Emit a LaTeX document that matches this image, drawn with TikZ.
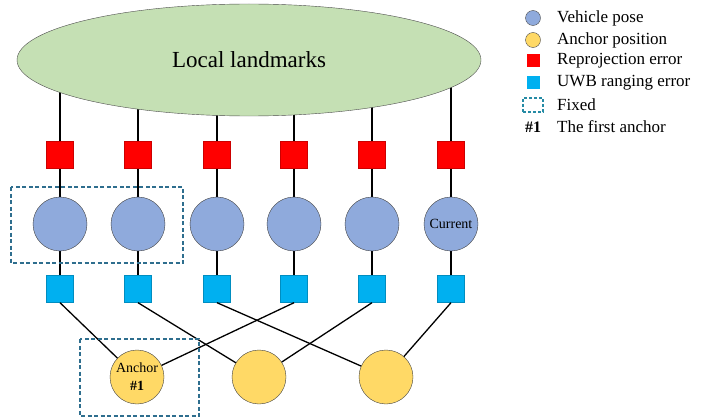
\documentclass[tikz,border=0pt]{standalone}
\usepackage{fontspec}
\setmainfont{Liberation Serif}
\usetikzlibrary{shapes.geometric,backgrounds}

\definecolor{poseblue}{HTML}{8FAADC}
\definecolor{anchoryellow}{HTML}{FFD966}
\definecolor{uwbblue}{HTML}{00B0F0}
\definecolor{landgreen}{HTML}{C5E0B4}
\definecolor{fixedblue}{HTML}{2E6E8E}

\tikzset{
	pose/.style={circle, draw=black!75, fill=poseblue, minimum size=54pt, inner sep=0pt, font=\fontsize{14}{16}\selectfont},
	anchorpt/.style={circle, draw=black!75, fill=anchoryellow, minimum size=54pt, inner sep=0pt, align=center, font=\fontsize{14}{18}\selectfont},
	reproj/.style={rectangle, fill=red, draw=red!80!black, minimum size=27pt, inner sep=0pt},
	ranging/.style={rectangle, fill=uwbblue, draw=uwbblue!80!black, minimum size=27pt, inner sep=0pt},
	fixedbox/.style={draw=fixedblue, line width=1.3pt, dash pattern=on 4pt off 2.5pt},
	link/.style={line width=1.3pt},
	legtext/.style={anchor=west, inner sep=0pt, font=\fontsize{17}{18}\selectfont}
}

\begin{document}
\begin{tikzpicture}[x=1pt, y=-1pt]
		\useasboundingbox (0,0) rectangle (702,420);
		% landmarks
		\node[ellipse, draw=black!70, fill=landgreen, minimum width=464pt, minimum height=112pt,
			font=\fontsize{23}{24}\selectfont] (L) at (249,60) {Local landmarks};
		% factors and poses
		\foreach \i/\x in {1/60, 2/138, 3/217, 4/294, 5/372, 6/451} {
			\node[reproj] (r\i) at (\x,155) {};
			\node[ranging] (u\i) at (\x,289) {};
		}
		\node[pose] (v1) at (60,224) {};
		\node[pose] (v2) at (138,224) {};
		\node[pose] (v3) at (217,224) {};
		\node[pose] (v4) at (294,224) {};
		\node[pose] (v5) at (372,224) {};
		\node[pose] (v6) at (451,224) {Current};
		% anchors
		\node[anchorpt] (a1) at (137,377) {Anchor\\\textbf{\#1}};
		\node[anchorpt] (a2) at (259,377) {};
		\node[anchorpt] (a3) at (386,377) {};
		\begin{scope}[on background layer]
			\foreach \i in {1,...,6} {
				\draw[link] (r\i.north) -- (r\i |- L.center);
				\draw[link] (r\i) -- (v\i);
				\draw[link] (v\i) -- (u\i);
			}
		\end{scope}
		\draw[link] (u1.south) -- (a1);
		\draw[link] (u2.south) -- (a2);
		\draw[link] (u3.south) -- (a3);
		\draw[link] (u4.south) -- (a1);
		\draw[link] (u5.south) -- (a2);
		\draw[link] (u6.south) -- (a3);
		% fixed
		\draw[fixedbox] (11,187) rectangle (183,263);
		\draw[fixedbox] (80,339) rectangle (199,416);
		% legend
		\node[circle, draw=black!70, fill=poseblue, minimum size=15pt, inner sep=0pt] (k1) at (533,18) {};
		\node[circle, draw=black!70, fill=anchoryellow, minimum size=15pt, inner sep=0pt] (k2) at (533,40) {};
		\node[rectangle, fill=red, minimum size=13pt, inner sep=0pt] (k3) at (533,61) {};
		\node[rectangle, fill=uwbblue, minimum size=13pt, inner sep=0pt] (k4) at (533,83) {};
		\node[rectangle, draw=fixedblue!80!cyan, line width=1.2pt, dash pattern=on 3pt off 2pt, minimum width=20pt, minimum height=14pt, inner sep=0pt] (k5) at (533,105) {};
		\node[inner sep=0pt, font=\fontsize{16}{17}\selectfont\bfseries] (k6) at (533,127) {\#1};
		\node[legtext] (t1) at (557,18) {Vehicle pose};
		\node[legtext] (t2) at (557,40) {Anchor position};
		\node[legtext] (t3) at (557,61) {Reprojection error};
		\node[legtext] (t4) at (557,83) {UWB ranging error};
		\node[legtext] (t5) at (557,105) {Fixed};
		\node[legtext] (t6) at (557,127) {The first anchor};
\end{tikzpicture}
\end{document}
